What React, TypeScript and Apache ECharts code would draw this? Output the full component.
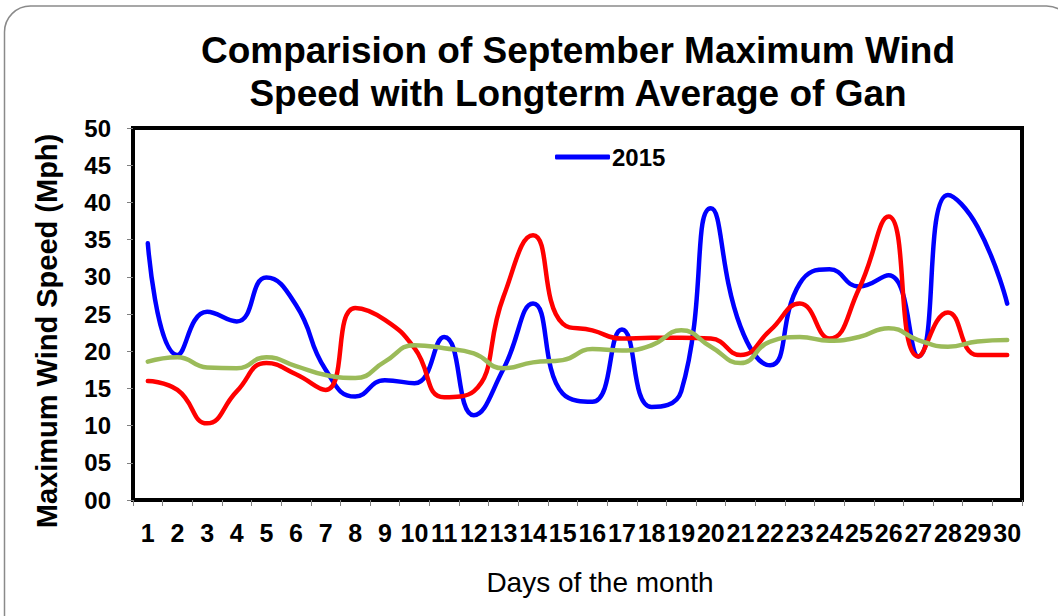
import React, { useEffect, useRef } from "react";
import * as echarts from "echarts";

const days = ["1","2","3","4","5","6","7","8","9","10","11","12","13","14","15","16","17","18","19","20","21","22","23","24","25","26","27","28","29","30"];
const series2015 = [34.5,19.5,25.3,24.0,29.9,26.2,17.5,13.9,16.1,15.7,21.9,11.4,17.6,26.4,14.3,13.2,22.9,12.5,14.6,39.2,23.3,18.1,29.1,31.0,28.7,30.2,19.3,41.0,36.7,26.4];
const seriesRed = [16.0,14.8,10.3,14.6,18.4,16.9,14.8,25.8,24.2,20.4,13.8,14.6,27.3,35.6,23.7,22.8,21.7,21.8,21.8,21.7,19.5,22.8,26.4,21.7,28.4,38.1,19.3,25.2,19.5,19.5];
const seriesGreen = [18.6,19.2,17.8,17.7,19.2,18.0,16.8,16.4,18.6,20.8,20.4,19.7,17.7,18.5,18.8,20.3,20.1,20.8,22.8,20.6,18.4,21.3,21.9,21.4,21.9,23.1,21.5,20.6,21.3,21.5];
const yTicks = [0, 5, 10, 15, 20, 25, 30, 35, 40, 45, 50];

const FONT = "'Liberation Sans', Arial, sans-serif";

export default function App() {
  const ref = useRef<HTMLDivElement>(null);
  useEffect(() => {
    if (!ref.current) return;
    const chart = echarts.init(ref.current, null, { renderer: "svg" });
    const lineSeries = (name: string, data: number[], color: string) => ({
      name,
      type: "line",
      data,
      smooth: 0.5,
      symbol: "none",
      lineStyle: { color, width: 4.5, cap: "round", join: "round" },
      itemStyle: { color },
    });
    chart.setOption({
      animation: false,
      backgroundColor: "#ffffff",
      textStyle: { fontFamily: FONT },
      graphic: [
        {
          type: "rect",
          shape: { x: 4.5, y: 6, width: 1068, height: 720, r: 26 },
          style: { fill: "none", stroke: "#8a8a8a", lineWidth: 1.5 },
          silent: true,
        },
        {
          type: "text",
          x: 578,
          y: 72,
          style: {
            text: "Comparision of September Maximum Wind\nSpeed with Longterm Average of Gan",
            font: `bold 37px ${FONT}`,
            fill: "#000",
            textAlign: "center",
            textVerticalAlign: "middle",
            lineHeight: 43,
          },
        },
        {
          type: "text",
          x: 600,
          y: 582,
          style: {
            text: "Days of the month",
            font: `28px ${FONT}`,
            fill: "#000",
            textAlign: "center",
            textVerticalAlign: "middle",
          },
        },
        {
          type: "text",
          x: 47,
          y: 331,
          rotation: Math.PI / 2,
          style: {
            text: "Maximum Wind Speed (Mph)",
            font: `bold 29px ${FONT}`,
            fill: "#000",
            textAlign: "center",
            textVerticalAlign: "middle",
          },
        },
      ],
      legend: {
        data: [{ name: "2015", icon: "roundRect" }],
        left: 555,
        top: 145,
        padding: 0,
        itemWidth: 55,
        itemHeight: 5,
        textStyle: { fontFamily: FONT, fontWeight: "bold", fontSize: 24, color: "#000", padding: [0, 0, 0, -3] },
      },
      grid: {
        left: 133,
        right: 36,
        top: 128,
        bottom: 116,
        show: true,
        borderColor: "#000",
        borderWidth: 4,
        backgroundColor: "transparent",
        containLabel: false,
      },
      xAxis: {
        type: "category",
        data: days,
        boundaryGap: true,
        axisLine: { show: false },
        axisTick: { show: true, length: 6, lineStyle: { color: "#808080", width: 1 } },
        axisLabel: {
          interval: 0,
          margin: 20,
          fontFamily: FONT,
          fontWeight: "bold",
          fontSize: 25,
          color: "#000",
        },
        splitLine: { show: false },
      },
      yAxis: {
        type: "value",
        min: yTicks[0],
        max: yTicks[yTicks.length - 1],
        interval: yTicks[1] - yTicks[0],
        axisLine: { show: false },
        axisTick: { show: true, length: 6, lineStyle: { color: "#808080", width: 1 } },
        axisLabel: {
          margin: 22,
          fontFamily: FONT,
          fontWeight: "bold",
          fontSize: 24,
          color: "#000",
          formatter: (v: number) => (v < 10 ? "0" + v : String(v)),
        },
        splitLine: { show: false },
      },
      series: [
        lineSeries("2015", series2015, "#0000ff"),
        lineSeries("Series 2", seriesRed, "#ff0000"),
        lineSeries("Longterm Average", seriesGreen, "#9bbb59"),
      ],
    });
    return () => chart.dispose();
  }, []);
  return (
    <div
      ref={ref}
      style={{ position: "fixed", left: 0, top: 0, width: 1058, height: 616, background: "#fff" }}
    />
  );
}
